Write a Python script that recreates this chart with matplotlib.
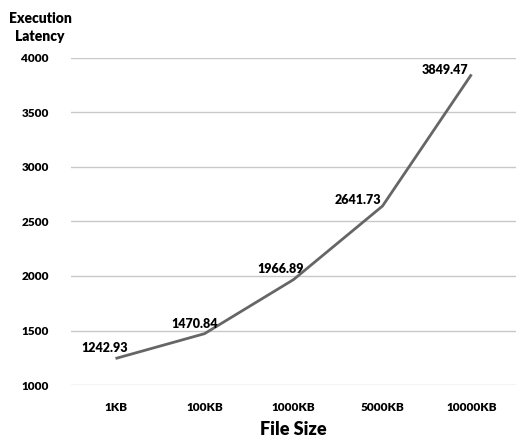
import matplotlib.pyplot as plt

sizes = ['1KB', '100KB', '1000KB', '5000KB', '10000KB']
latency = [1242.93, 1470.84, 1966.89, 2641.73, 3849.47]
y_ticks = [1000, 1500, 2000, 2500, 3000, 3500, 4000]

# label offsets from each point, in points
label_offsets = [(-8, 3.5), (-7, 3), (-9, 3.5), (-18, 0), (-19, -1.5)]

plt.rcParams['font.family'] = ['Lato', 'DejaVu Sans']
plt.rcParams['font.weight'] = 'heavy'

fig = plt.figure(figsize=(5.16, 4.38), dpi=100)
ax = fig.add_axes([0.1376, 0.121, 0.8624, 0.7466])

x = list(range(len(sizes)))
ax.plot(x, latency, color='#666666', linewidth=2.0, solid_capstyle='butt')

for xi, v, off in zip(x, latency, label_offsets):
    ax.annotate(f'{v:.2f}', (xi, v), xytext=off, textcoords='offset points',
                ha='center', va='bottom', fontsize=9, fontweight='heavy', color='black')

ax.set_xlim(-0.5, len(sizes) - 0.5)
ax.set_ylim(1000, 4000)
ax.set_yticks(y_ticks)
ax.set_xticks(x)
ax.set_xticklabels(sizes)
ax.tick_params(axis='both', length=0, labelsize=8.5, colors='black')
ax.tick_params(axis='y', pad=16)
ax.tick_params(axis='x', pad=12)
for lbl in ax.get_xticklabels() + ax.get_yticklabels():
    lbl.set_fontweight('heavy')

ax.grid(axis='y', color='#c8c8c8', linewidth=1.0)
ax.set_axisbelow(True)
for s in ax.spines.values():
    s.set_visible(False)

ax.set_xlabel('File Size', fontsize=13, fontweight='heavy', labelpad=6)
fig.text(0.078, 0.958, 'Execution', ha='center', va='center', fontsize=10, fontweight='heavy')
fig.text(0.078, 0.917, 'Latency', ha='center', va='center', fontsize=10, fontweight='heavy')

fig.savefig('out.png', dpi=100)
